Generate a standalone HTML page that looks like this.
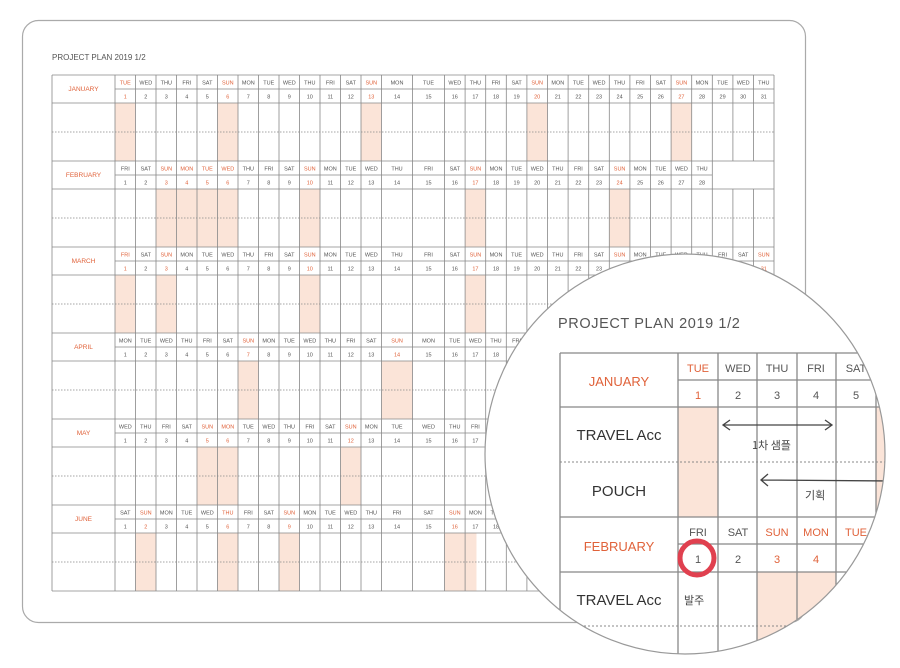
<!DOCTYPE html>
<html><head><meta charset="utf-8"><style>
html,body{margin:0;padding:0;background:#fff;}
svg{display:block;font-family:"Liberation Sans","Noto Sans CJK KR",sans-serif;}
.d{font-size:5.5px;fill:#555;text-anchor:middle}
.r{font-size:5.5px;fill:#e0623a;text-anchor:middle}
.m{font-size:6.5px;fill:#e0623a;text-anchor:middle}
.sh{fill:#fbe4d8}
</style></head><body>
<svg width="900" height="668" viewBox="0 0 900 668">
<rect x="22.5" y="20.5" width="783" height="602" rx="16" fill="#fff" stroke="#aaa" stroke-width="1.2"/>
<text x="52" y="60" font-size="8" fill="#555">PROJECT PLAN  2019 1/2</text>
<g class="sh">
<rect x="115" y="103" width="20.5" height="58"/><rect x="217.5" y="103" width="20.5" height="58"/><rect x="361" y="103" width="20.5" height="58"/><rect x="526.9" y="103" width="20.6" height="58"/><rect x="671.1" y="103" width="20.6" height="58"/>
<rect x="156" y="189" width="82" height="58"/><rect x="299.5" y="189" width="20.5" height="58"/><rect x="465.1" y="189" width="20.6" height="58"/><rect x="609.3" y="189" width="20.6" height="58"/>
<rect x="115" y="275" width="20.5" height="58"/><rect x="156" y="275" width="20.5" height="58"/><rect x="299.5" y="275" width="20.5" height="58"/><rect x="465.1" y="275" width="20.6" height="58"/><rect x="609.3" y="275" width="20.6" height="58"/><rect x="753.5" y="275" width="20.5" height="58"/>
<rect x="238" y="361" width="20.5" height="58"/><rect x="381.5" y="361" width="31" height="58"/><rect x="547.5" y="361" width="20.6" height="58"/><rect x="691.7" y="361" width="20.6" height="58"/>
<rect x="197" y="447" width="41" height="58"/><rect x="340.5" y="447" width="20.5" height="58"/><rect x="506.3" y="447" width="20.6" height="58"/><rect x="650.5" y="447" width="20.6" height="58"/>
<rect x="135.5" y="533" width="20.5" height="58"/><rect x="217.5" y="533" width="20.5" height="58"/><rect x="279" y="533" width="20.5" height="58"/><rect x="444.5" y="533" width="32" height="58"/><rect x="588.7" y="533" width="20.6" height="58"/><rect x="732.9" y="533" width="20.6" height="58"/>
</g>
<g stroke="#888" stroke-width="0.8" fill="none">
<path d="M52 75H774M115 89H774M52 103H774M52 161H774M115 175H712.3M52 189H774M52 247H774M115 261H774M52 275H774M52 333H774M115 347H774M52 361H774M52 419H774M115 433H774M52 447H774M52 505H774M115 519H774M52 533H774M52 591H774"/>
<path d="M52 75V591M115 75V591M135.5 75V591M156 75V591M176.5 75V591M197 75V591M217.5 75V591M238 75V591M258.5 75V591M279 75V591M299.5 75V591M320 75V591M340.5 75V591M361 75V591M381.5 75V591M412.5 75V591M444.5 75V591M465.1 75V591M485.7 75V591M506.3 75V591M526.9 75V591M547.5 75V591M568.1 75V591M588.7 75V591M609.3 75V591M629.9 75V591M650.5 75V591M671.1 75V591M691.7 75V591M712.3 75V591M732.9 75V161M732.9 189V591M753.5 75V161M753.5 189V591M774 75V591"/>
<path stroke-dasharray="1.5 1.5" d="M52 132H774M52 218H774M52 304H774M52 390H774M52 476H774M52 562H774"/>
</g>
<text class="m" x="83.5" y="91">JANUARY</text>
<text class="m" x="83.5" y="177">FEBRUARY</text>
<text class="m" x="83.5" y="263">MARCH</text>
<text class="m" x="83.5" y="349">APRIL</text>
<text class="m" x="83.5" y="435">MAY</text>
<text class="m" x="83.5" y="521">JUNE</text>
<text class="d" y="84.5"><tspan x="145.8">WED</tspan><tspan x="166.3">THU</tspan><tspan x="186.8">FRI</tspan><tspan x="207.3">SAT</tspan><tspan x="248.3">MON</tspan><tspan x="268.8">TUE</tspan><tspan x="289.3">WED</tspan><tspan x="309.8">THU</tspan><tspan x="330.3">FRI</tspan><tspan x="350.8">SAT</tspan><tspan x="397">MON</tspan><tspan x="428.5">TUE</tspan><tspan x="454.8">WED</tspan><tspan x="475.4">THU</tspan><tspan x="496">FRI</tspan><tspan x="516.6">SAT</tspan><tspan x="557.8">MON</tspan><tspan x="578.4">TUE</tspan><tspan x="599">WED</tspan><tspan x="619.6">THU</tspan><tspan x="640.2">FRI</tspan><tspan x="660.8">SAT</tspan><tspan x="702">MON</tspan><tspan x="722.6">TUE</tspan><tspan x="743.2">WED</tspan><tspan x="763.8">THU</tspan></text>
<text class="r" y="84.5"><tspan x="125.3">TUE</tspan><tspan x="227.8">SUN</tspan><tspan x="371.3">SUN</tspan><tspan x="537.2">SUN</tspan><tspan x="681.4">SUN</tspan></text>
<text class="d" y="98.5"><tspan x="145.8">2</tspan><tspan x="166.3">3</tspan><tspan x="186.8">4</tspan><tspan x="207.3">5</tspan><tspan x="248.3">7</tspan><tspan x="268.8">8</tspan><tspan x="289.3">9</tspan><tspan x="309.8">10</tspan><tspan x="330.3">11</tspan><tspan x="350.8">12</tspan><tspan x="397">14</tspan><tspan x="428.5">15</tspan><tspan x="454.8">16</tspan><tspan x="475.4">17</tspan><tspan x="496">18</tspan><tspan x="516.6">19</tspan><tspan x="557.8">21</tspan><tspan x="578.4">22</tspan><tspan x="599">23</tspan><tspan x="619.6">24</tspan><tspan x="640.2">25</tspan><tspan x="660.8">26</tspan><tspan x="702">28</tspan><tspan x="722.6">29</tspan><tspan x="743.2">30</tspan><tspan x="763.8">31</tspan></text>
<text class="r" y="98.5"><tspan x="125.3">1</tspan><tspan x="227.8">6</tspan><tspan x="371.3">13</tspan><tspan x="537.2">20</tspan><tspan x="681.4">27</tspan></text>
<text class="d" y="170.5"><tspan x="125.3">FRI</tspan><tspan x="145.8">SAT</tspan><tspan x="248.3">THU</tspan><tspan x="268.8">FRI</tspan><tspan x="289.3">SAT</tspan><tspan x="330.3">MON</tspan><tspan x="350.8">TUE</tspan><tspan x="371.3">WED</tspan><tspan x="397">THU</tspan><tspan x="428.5">FRI</tspan><tspan x="454.8">SAT</tspan><tspan x="496">MON</tspan><tspan x="516.6">TUE</tspan><tspan x="537.2">WED</tspan><tspan x="557.8">THU</tspan><tspan x="578.4">FRI</tspan><tspan x="599">SAT</tspan><tspan x="640.2">MON</tspan><tspan x="660.8">TUE</tspan><tspan x="681.4">WED</tspan><tspan x="702">THU</tspan></text>
<text class="r" y="170.5"><tspan x="166.3">SUN</tspan><tspan x="186.8">MON</tspan><tspan x="207.3">TUE</tspan><tspan x="227.8">WED</tspan><tspan x="309.8">SUN</tspan><tspan x="475.4">SUN</tspan><tspan x="619.6">SUN</tspan></text>
<text class="d" y="184.5"><tspan x="125.3">1</tspan><tspan x="145.8">2</tspan><tspan x="248.3">7</tspan><tspan x="268.8">8</tspan><tspan x="289.3">9</tspan><tspan x="330.3">11</tspan><tspan x="350.8">12</tspan><tspan x="371.3">13</tspan><tspan x="397">14</tspan><tspan x="428.5">15</tspan><tspan x="454.8">16</tspan><tspan x="496">18</tspan><tspan x="516.6">19</tspan><tspan x="537.2">20</tspan><tspan x="557.8">21</tspan><tspan x="578.4">22</tspan><tspan x="599">23</tspan><tspan x="640.2">25</tspan><tspan x="660.8">26</tspan><tspan x="681.4">27</tspan><tspan x="702">28</tspan></text>
<text class="r" y="184.5"><tspan x="166.3">3</tspan><tspan x="186.8">4</tspan><tspan x="207.3">5</tspan><tspan x="227.8">6</tspan><tspan x="309.8">10</tspan><tspan x="475.4">17</tspan><tspan x="619.6">24</tspan></text>
<text class="d" y="256.5"><tspan x="145.8">SAT</tspan><tspan x="186.8">MON</tspan><tspan x="207.3">TUE</tspan><tspan x="227.8">WED</tspan><tspan x="248.3">THU</tspan><tspan x="268.8">FRI</tspan><tspan x="289.3">SAT</tspan><tspan x="330.3">MON</tspan><tspan x="350.8">TUE</tspan><tspan x="371.3">WED</tspan><tspan x="397">THU</tspan><tspan x="428.5">FRI</tspan><tspan x="454.8">SAT</tspan><tspan x="496">MON</tspan><tspan x="516.6">TUE</tspan><tspan x="537.2">WED</tspan><tspan x="557.8">THU</tspan><tspan x="578.4">FRI</tspan><tspan x="599">SAT</tspan><tspan x="640.2">MON</tspan><tspan x="660.8">TUE</tspan><tspan x="681.4">WED</tspan><tspan x="702">THU</tspan><tspan x="722.6">FRI</tspan><tspan x="743.2">SAT</tspan></text>
<text class="r" y="256.5"><tspan x="125.3">FRI</tspan><tspan x="166.3">SUN</tspan><tspan x="309.8">SUN</tspan><tspan x="475.4">SUN</tspan><tspan x="619.6">SUN</tspan><tspan x="763.8">SUN</tspan></text>
<text class="d" y="270.5"><tspan x="145.8">2</tspan><tspan x="186.8">4</tspan><tspan x="207.3">5</tspan><tspan x="227.8">6</tspan><tspan x="248.3">7</tspan><tspan x="268.8">8</tspan><tspan x="289.3">9</tspan><tspan x="330.3">11</tspan><tspan x="350.8">12</tspan><tspan x="371.3">13</tspan><tspan x="397">14</tspan><tspan x="428.5">15</tspan><tspan x="454.8">16</tspan><tspan x="496">18</tspan><tspan x="516.6">19</tspan><tspan x="537.2">20</tspan><tspan x="557.8">21</tspan><tspan x="578.4">22</tspan><tspan x="599">23</tspan><tspan x="640.2">25</tspan><tspan x="660.8">26</tspan><tspan x="681.4">27</tspan><tspan x="702">28</tspan><tspan x="722.6">29</tspan><tspan x="743.2">30</tspan></text>
<text class="r" y="270.5"><tspan x="125.3">1</tspan><tspan x="166.3">3</tspan><tspan x="309.8">10</tspan><tspan x="475.4">17</tspan><tspan x="619.6">24</tspan><tspan x="763.8">31</tspan></text>
<text class="d" y="342.5"><tspan x="125.3">MON</tspan><tspan x="145.8">TUE</tspan><tspan x="166.3">WED</tspan><tspan x="186.8">THU</tspan><tspan x="207.3">FRI</tspan><tspan x="227.8">SAT</tspan><tspan x="268.8">MON</tspan><tspan x="289.3">TUE</tspan><tspan x="309.8">WED</tspan><tspan x="330.3">THU</tspan><tspan x="350.8">FRI</tspan><tspan x="371.3">SAT</tspan><tspan x="428.5">MON</tspan><tspan x="454.8">TUE</tspan><tspan x="475.4">WED</tspan><tspan x="496">THU</tspan><tspan x="516.6">FRI</tspan><tspan x="537.2">SAT</tspan></text>
<text class="r" y="342.5"><tspan x="248.3">SUN</tspan><tspan x="397">SUN</tspan></text>
<text class="d" y="356.5"><tspan x="125.3">1</tspan><tspan x="145.8">2</tspan><tspan x="166.3">3</tspan><tspan x="186.8">4</tspan><tspan x="207.3">5</tspan><tspan x="227.8">6</tspan><tspan x="268.8">8</tspan><tspan x="289.3">9</tspan><tspan x="309.8">10</tspan><tspan x="330.3">11</tspan><tspan x="350.8">12</tspan><tspan x="371.3">13</tspan><tspan x="428.5">15</tspan><tspan x="454.8">16</tspan><tspan x="475.4">17</tspan><tspan x="496">18</tspan><tspan x="516.6">19</tspan><tspan x="537.2">20</tspan></text>
<text class="r" y="356.5"><tspan x="248.3">7</tspan><tspan x="397">14</tspan></text>
<text class="d" y="428.5"><tspan x="125.3">WED</tspan><tspan x="145.8">THU</tspan><tspan x="166.3">FRI</tspan><tspan x="186.8">SAT</tspan><tspan x="248.3">TUE</tspan><tspan x="268.8">WED</tspan><tspan x="289.3">THU</tspan><tspan x="309.8">FRI</tspan><tspan x="330.3">SAT</tspan><tspan x="371.3">MON</tspan><tspan x="397">TUE</tspan><tspan x="428.5">WED</tspan><tspan x="454.8">THU</tspan><tspan x="475.4">FRI</tspan><tspan x="496">SAT</tspan></text>
<text class="r" y="428.5"><tspan x="207.3">SUN</tspan><tspan x="227.8">MON</tspan><tspan x="350.8">SUN</tspan></text>
<text class="d" y="442.5"><tspan x="125.3">1</tspan><tspan x="145.8">2</tspan><tspan x="166.3">3</tspan><tspan x="186.8">4</tspan><tspan x="248.3">7</tspan><tspan x="268.8">8</tspan><tspan x="289.3">9</tspan><tspan x="309.8">10</tspan><tspan x="330.3">11</tspan><tspan x="371.3">13</tspan><tspan x="397">14</tspan><tspan x="428.5">15</tspan><tspan x="454.8">16</tspan><tspan x="475.4">17</tspan><tspan x="496">18</tspan></text>
<text class="r" y="442.5"><tspan x="207.3">5</tspan><tspan x="227.8">6</tspan><tspan x="350.8">12</tspan></text>
<text class="d" y="514.5"><tspan x="125.3">SAT</tspan><tspan x="166.3">MON</tspan><tspan x="186.8">TUE</tspan><tspan x="207.3">WED</tspan><tspan x="248.3">FRI</tspan><tspan x="268.8">SAT</tspan><tspan x="309.8">MON</tspan><tspan x="330.3">TUE</tspan><tspan x="350.8">WED</tspan><tspan x="371.3">THU</tspan><tspan x="397">FRI</tspan><tspan x="428.5">SAT</tspan><tspan x="475.4">MON</tspan><tspan x="496">TUE</tspan></text>
<text class="r" y="514.5"><tspan x="145.8">SUN</tspan><tspan x="227.8">THU</tspan><tspan x="289.3">SUN</tspan><tspan x="454.8">SUN</tspan></text>
<text class="d" y="528.5"><tspan x="125.3">1</tspan><tspan x="166.3">3</tspan><tspan x="186.8">4</tspan><tspan x="207.3">5</tspan><tspan x="248.3">7</tspan><tspan x="268.8">8</tspan><tspan x="309.8">10</tspan><tspan x="330.3">11</tspan><tspan x="350.8">12</tspan><tspan x="371.3">13</tspan><tspan x="397">14</tspan><tspan x="428.5">15</tspan><tspan x="475.4">17</tspan><tspan x="496">18</tspan></text>
<text class="r" y="528.5"><tspan x="145.8">2</tspan><tspan x="227.8">6</tspan><tspan x="289.3">9</tspan><tspan x="454.8">16</tspan></text>

<defs><clipPath id="c"><circle cx="685" cy="454" r="200"/></clipPath></defs>
<circle cx="685" cy="454" r="200" fill="#fff"/>
<g clip-path="url(#c)">
<rect x="678" y="407" width="40" height="110" fill="#fbe4d8"/>
<rect x="757" y="572" width="79" height="90" fill="#fbe4d8"/>
<rect x="876" y="407" width="12" height="110" fill="#fbe4d8"/>
<g stroke="#888" stroke-width="1.3" fill="none">
<path d="M560 353H900M678 380H900M560 407H900M560 517H900M678 544H900M560 572H900"/>
<path d="M560 353V670M678 353V670M718 353V670M757 353V670M797 353V670M836 353V670M876 353V670"/>
<path stroke-dasharray="2 2" stroke-width="1" d="M560 462H900M560 626H900"/>
</g>
<text x="558" y="328" font-size="14.5" fill="#555" letter-spacing="0.6">PROJECT PLAN  2019 1/2</text>
<text x="619" y="386" font-size="13" fill="#e0623a" text-anchor="middle">JANUARY</text>
<text x="619" y="551" font-size="13" fill="#e0623a" text-anchor="middle">FEBRUARY</text>
<g font-size="11" text-anchor="middle" fill="#555">
<text x="698" y="372" fill="#e0623a">TUE</text><text x="738" y="372">WED</text><text x="777" y="372">THU</text><text x="816" y="372">FRI</text><text x="856" y="372">SAT</text>
<text x="698" y="399" fill="#e0623a">1</text><text x="738" y="399">2</text><text x="777" y="399">3</text><text x="816" y="399">4</text><text x="856" y="399">5</text>
<text x="698" y="536">FRI</text><text x="738" y="536">SAT</text><text x="777" y="536" fill="#e0623a">SUN</text><text x="816" y="536" fill="#e0623a">MON</text><text x="856" y="536" fill="#e0623a">TUE</text>
<text x="698" y="563">1</text><text x="738" y="563">2</text><text x="777" y="563" fill="#e0623a">3</text><text x="816" y="563" fill="#e0623a">4</text>
</g>
<g font-size="15" fill="#333" text-anchor="middle" font-family="Liberation Sans,sans-serif">
<text x="619" y="440">TRAVEL Acc</text>
<text x="619" y="496">POUCH</text>
<text x="619" y="605">TRAVEL Acc</text>
</g>
<g stroke="#444" stroke-width="1.3" fill="none">
<path d="M723 425L832 425M730 420L723 425L730 430M825 420L832 425L825 430"/>
<path d="M761 480L890 481M768 474L761 480L768 486"/>
</g>
<g font-size="11" fill="#444" font-family="Noto Sans CJK KR,sans-serif">
<text x="752" y="449">1차 샘플</text>
<text x="805" y="499">기획</text>
<text x="684" y="604">발주</text>
</g>
<circle cx="697" cy="558" r="17" fill="none" stroke="#e0404f" stroke-width="5"/>
</g>
<circle cx="685" cy="454" r="200" fill="none" stroke="#999" stroke-width="1.2"/>
</svg>
</body></html>
